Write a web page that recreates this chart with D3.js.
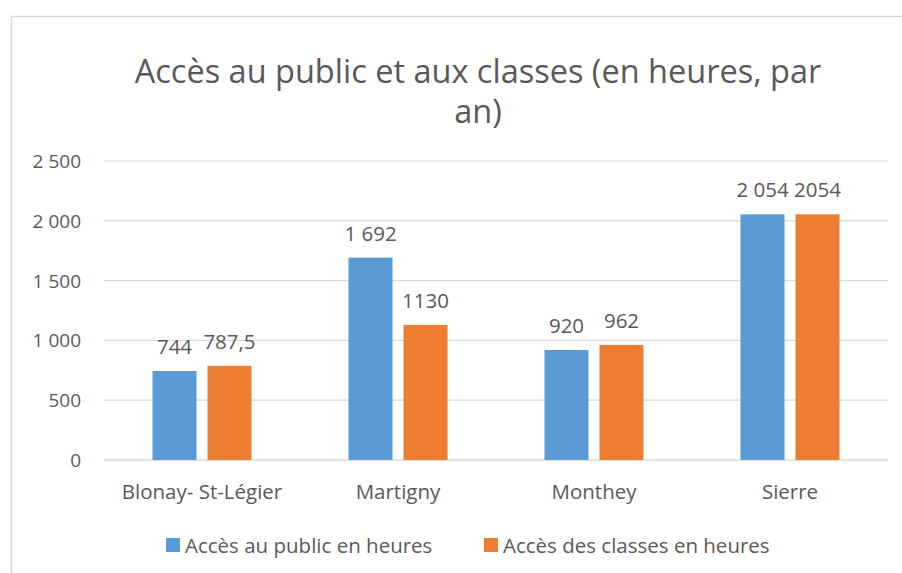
<!DOCTYPE html>
<html>
<head>
<meta charset="utf-8">
<script src="https://cdn.jsdelivr.net/npm/d3@7"></script>
<style>
  body { margin: 0; background: #fff; }
  svg { display: block; }
  text { font-family: "Open Sans", "Noto Sans", sans-serif; fill: #595959; }
</style>
</head>
<body>
<svg id="chart" width="902" height="573"></svg>
<script>
const categories = ["Blonay- St-Légier", "Martigny", "Monthey", "Sierre"];
const seriesNames = ["Accès au public en heures", "Accès des classes en heures"];
const publicHours = [744, 1692, 920, 2054];
const classHours = [787.5, 1130, 962, 2054];
// labels as printed in the source (formatting is not consistent there)
const publicLabels = ["744", "1 692", "920", "2 054"];
const classLabels = ["787,5", "1130", "962", "2054"];
const yTicks = [0, 500, 1000, 1500, 2000, 2500];
const titleLines = ["Accès au public et aux classes (en heures, par", "an)"];

const colors = ["#5b9bd5", "#ed7d31"];
const svg = d3.select("#chart");

const plot = { left: 104, right: 888, top: 161, bottom: 460 };

// outer frame of the chart area
svg.append("rect")
  .attr("x", 11.5).attr("y", 16.5)
  .attr("width", 940).attr("height", 600)
  .attr("fill", "none").attr("stroke", "#d9d9d9").attr("stroke-width", 1.5);

const x = d3.scaleBand().domain(categories).range([plot.left, plot.right]);
const y = d3.scaleLinear().domain([0, 2500]).range([plot.bottom, plot.top]);

const fmt = v => d3.format(",")(v).replace(/,/g, " ");

// gridlines + y labels
const grid = svg.append("g");
yTicks.forEach(t => {
  grid.append("line")
    .attr("x1", plot.left).attr("x2", plot.right)
    .attr("y1", y(t)).attr("y2", y(t))
    .attr("stroke", "#d9d9d9").attr("stroke-width", t === 0 ? 1.5 : 1.2);
  grid.append("text")
    .attr("x", 81).attr("y", y(t))
    .attr("text-anchor", "end").attr("dominant-baseline", "central")
    .attr("font-size", 19)
    .text(fmt(t));
});

const barW = 44, gap = 11;
const series = [
  { values: publicHours, labels: publicLabels, offset: -(gap / 2 + barW) },
  { values: classHours, labels: classLabels, offset: gap / 2 }
];

series.forEach((s, i) => {
  const g = svg.append("g");
  categories.forEach((c, j) => {
    const cx = x(c) + x.bandwidth() / 2;
    const v = s.values[j];
    g.append("rect")
      .attr("x", cx + s.offset).attr("y", y(v))
      .attr("width", barW).attr("height", y(0) - y(v))
      .attr("fill", colors[i]);
    g.append("text")
      .attr("x", cx + s.offset + barW / 2).attr("y", y(v) - 25)
      .attr("text-anchor", "middle").attr("dominant-baseline", "central")
      .attr("font-size", 20.5).attr("fill", "#404040")
      .text(s.labels[j]);
  });
});

// category labels
categories.forEach(c => {
  svg.append("text")
    .attr("x", x(c) + x.bandwidth() / 2).attr("y", 491)
    .attr("text-anchor", "middle").attr("dominant-baseline", "central")
    .attr("font-size", 20.5)
    .text(c);
});

// title, one text with two lines
const title = svg.append("text")
  .attr("text-anchor", "middle")
  .attr("font-size", 32.5);
titleLines.forEach((line, i) => {
  title.append("tspan")
    .attr("x", 478).attr("y", 83 + i * 40)
    .text(line);
});

// legend
const legendX = [166, 484];
seriesNames.forEach((name, i) => {
  svg.append("rect")
    .attr("x", legendX[i]).attr("y", 538)
    .attr("width", 14).attr("height", 14)
    .attr("fill", colors[i]);
  svg.append("text")
    .attr("x", legendX[i] + 19).attr("y", 545)
    .attr("dominant-baseline", "central")
    .attr("font-size", 20.5)
    .text(name);
});
</script>
</body>
</html>
